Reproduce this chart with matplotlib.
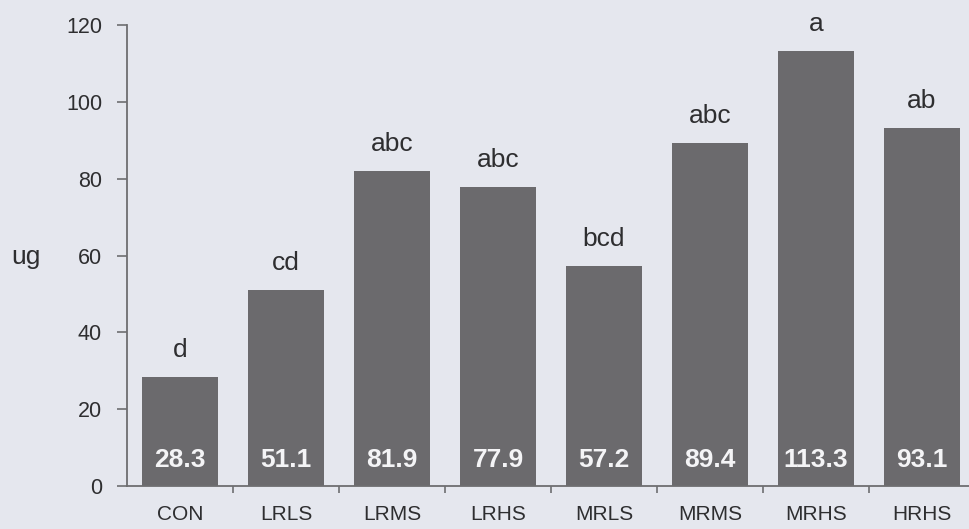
import numpy as np
import matplotlib.pyplot as plt

plt.rcParams['font.family'] = ['Liberation Sans', 'DejaVu Sans']

groups = ['CON', 'LRLS', 'LRMS', 'LRHS', 'MRLS', 'MRMS', 'MRHS', 'HRHS']
means = [28.3, 51.1, 81.9, 77.9, 57.2, 89.4, 113.3, 93.1]
letters = ['d', 'cd', 'abc', 'abc', 'bcd', 'abc', 'a', 'ab']

bg = '#e5e7ee'
bar_col = '#6b6a6d'
axis_col = '#6e6e70'
txt_col = '#2e2e30'

fig = plt.figure(figsize=(9.69, 5.29), dpi=100, facecolor=bg)
ax = fig.add_axes([127 / 969, 43 / 529, 848 / 969, 461 / 529], facecolor=bg)

x = np.arange(len(groups))
ax.bar(x, means, width=0.725, color=bar_col, edgecolor='none', zorder=2)

for xi, m, lab in zip(x, means, letters):
    # significance letters above each bar
    ax.annotate(lab, (xi, m), xytext=(0, 27), textcoords='offset pixels',
                ha='center', va='center', fontsize=19, color=txt_col)
    # mean value printed inside the bar
    ax.annotate(f'{m:.1f}', (xi, 0), xytext=(0, 26), textcoords='offset pixels',
                ha='center', va='center', fontsize=19, fontweight='bold',
                color='#f4f4f6')

ax.set_xlim(-0.5, len(groups) - 0.5)
ax.set_ylim(0, 120)
ax.set_yticks(np.arange(0, 121, 20))

ax.set_xticks(x)
ax.set_xticklabels(groups)
ax.set_xticks(np.arange(0.5, len(groups) - 0.5, 1), minor=True)
ax.tick_params(axis='x', which='major', length=0, pad=14, labelsize=15,
               labelcolor=txt_col)
ax.tick_params(axis='x', which='minor', length=5, width=1.2, color=axis_col,
               direction='out')
ax.tick_params(axis='y', length=7, width=1.2, color=axis_col, pad=11,
               labelsize=15.5, labelcolor=txt_col)

for side in ['top', 'right']:
    ax.spines[side].set_visible(False)
for side in ['left', 'bottom']:
    ax.spines[side].set_color(axis_col)
    ax.spines[side].set_linewidth(1.3)

fig.text(26 / 969, 1 - 257 / 529, 'ug', ha='center', va='center',
         fontsize=19, color=txt_col)

fig.savefig('out.png', dpi=100, facecolor=bg)
